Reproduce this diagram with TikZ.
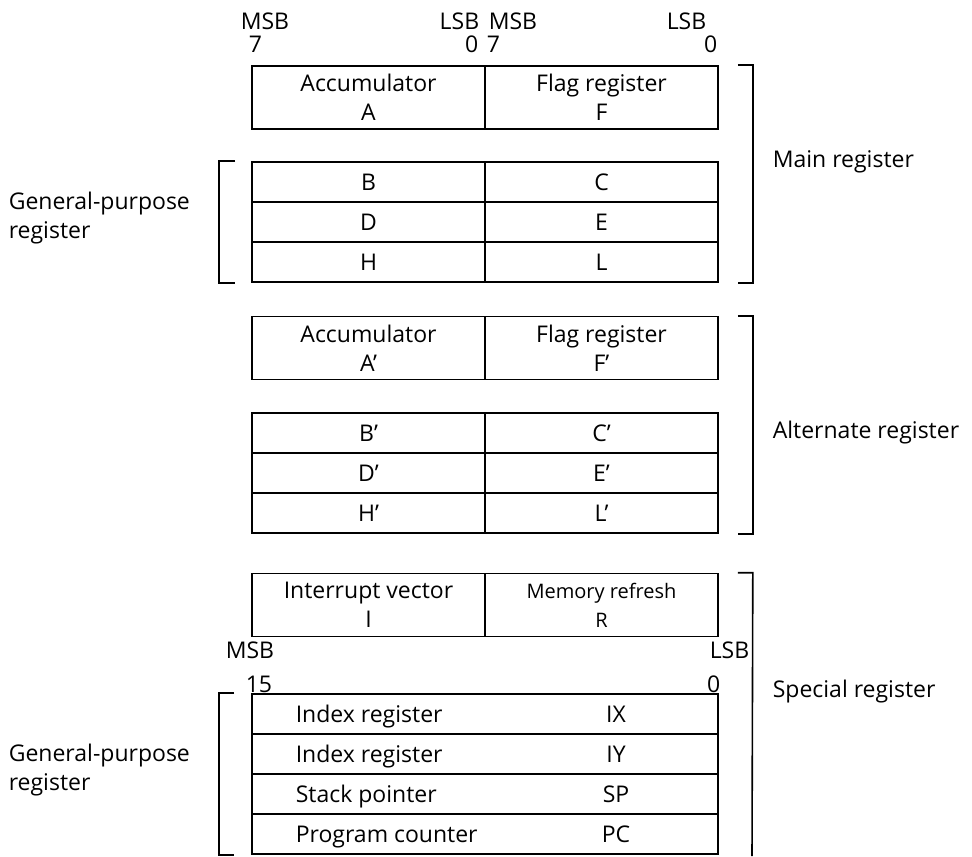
\documentclass[tikz,border=0pt]{standalone}
\usepackage{fontspec}
\setmainfont{Open Sans}
\usepackage{tikz}
\newcommand{\regfont}{\fontsize{11.5}{14.5}\selectfont}
\newcommand{\smallregfont}{\fontsize{10}{14.5}\selectfont}

\begin{document}
\begin{tikzpicture}[
    x=0.5pt, y=-0.5pt,
    line width=0.8pt,
    half/.style={draw, minimum width=116.5pt, minimum height=20pt, inner sep=0pt, font=\regfont},
    pair/.style={half, minimum height=31.5pt, align=center},
    full/.style={draw, minimum width=233pt, minimum height=20pt, inner sep=0pt},
    bits/.style={inner sep=0pt, font=\regfont},
    side/.style={inner sep=0pt, align=left, font=\regfont}
]
\useasboundingbox (0,0) rectangle (972,856);

% bit numbers, 8-bit pairs
\node[bits, anchor=base west] (msbA) at (240,30) {MSB};
\node[bits, anchor=base west] (bit7A) at (248,53) {7};
\node[bits, anchor=base east] (lsbA) at (480,30) {LSB};
\node[bits, anchor=base east] (bit0A) at (479,53) {0};
\node[bits, anchor=base west] (msbF) at (488,30) {MSB};
\node[bits, anchor=base west] (bit7F) at (486,53) {7};
\node[bits, anchor=base east] (lsbF) at (707,30) {LSB};
\node[bits, anchor=base east] (bit0F) at (718,53) {0};

% main register
\node[pair] (a) at (368.5,97.5) {Accumulator\\A};
\node[pair] (f) at (601.5,97.5) {Flag register\\F};
\node[half] (b) at (368.5,182) {B};
\node[half] (c) at (601.5,182) {C};
\node[half] (d) at (368.5,222) {D};
\node[half] (e) at (601.5,222) {E};
\node[half] (h) at (368.5,262) {H};
\node[half] (l) at (601.5,262) {L};

% alternate register
\node[pair] (a2) at (368.5,348) {Accumulator\\A’};
\node[pair] (f2) at (601.5,348) {Flag register\\F’};
\node[half] (b2) at (368.5,433) {B’};
\node[half] (c2) at (601.5,433) {C’};
\node[half] (d2) at (368.5,473) {D’};
\node[half] (e2) at (601.5,473) {E’};
\node[half] (h2) at (368.5,513) {H’};
\node[half] (l2) at (601.5,513) {L’};

% special register
\node[pair] (i) at (368.5,605) {Interrupt vector\\I};
\node[pair, font=\smallregfont] (r) at (601.5,605) {Memory refresh\\R};
\node[bits, anchor=base west] (msbX) at (225,658) {MSB};
\node[bits, anchor=base east] (lsbX) at (750,658) {LSB};
\node[bits, anchor=base west] (bit15X) at (245,692) {15};
\node[bits, anchor=base east] (bit0X) at (721,692) {0};

\node[full] (ix) at (485,714) {};
\node[full] (iy) at (485,754) {};
\node[full] (sp) at (485,794) {};
\node[full] (pc) at (485,834) {};
\foreach \row/\name/\short in {ix/Index register/IX, iy/Index register/IY, sp/Stack pointer/SP, pc/Program counter/PC} {
    \node[bits, anchor=base west] (\row-name) at ([yshift=-4pt]\row.center -| 295,0) {\name};
    \node[bits, anchor=base] (\row-short) at ([yshift=-4pt]\row.center -| 616,0) {\short};
}

% brackets
\draw ([xshift=-8pt]b.north west) -- ++(-8pt,0) |- ([xshift=-8pt]h.south west);
\draw ([xshift=-8.5pt]ix.north west) -- ++(-7.5pt,0) |- ([xshift=-8.5pt]pc.south west);
\draw ([xshift=9.5pt]f.north east) -- ++(7.5pt,0) |- ([xshift=9.5pt]l.south east);
\draw ([xshift=9.5pt]f2.north east) -- ++(7.5pt,0) |- ([xshift=9.5pt]l2.south east);
\draw ([xshift=9.5pt]r.north east) -- ++(7.5pt,0) -- (752,856);

% group labels
\node[side, anchor=west] (gpMain) at (8,218) {General-purpose\\register};
\node[side, anchor=west] (gpSpecial) at (8,770) {General-purpose\\register};
\node[side, anchor=west] (mainLbl) at (772,162) {Main register};
\node[side, anchor=west] (altLbl) at (772,433) {Alternate register};
\node[side, anchor=west] (specLbl) at (772,692) {Special register};

\end{tikzpicture}
\end{document}
